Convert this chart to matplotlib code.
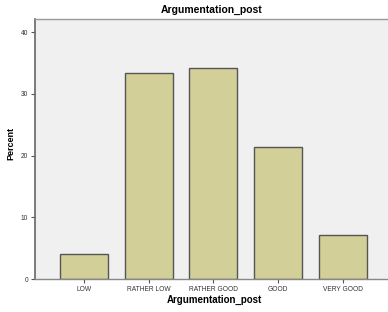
import matplotlib
matplotlib.use("Agg")
import matplotlib.pyplot as plt

plt.rcParams["font.family"] = ["Liberation Sans", "DejaVu Sans"]

categories = ["LOW", "RATHER LOW", "RATHER GOOD", "GOOD", "VERY GOOD"]
percent = [4.0, 33.3, 34.2, 21.4, 7.1]
yticks = [0, 10, 20, 30, 40]

fig = plt.figure(figsize=(3.88, 3.12), dpi=100)
fig.patch.set_facecolor("white")
ax = fig.add_axes([35/388, 33/312, 1 - 35/388, (279 - 18.5)/312])
ax.set_facecolor("#f0f0f0")

x = list(range(len(categories)))
ax.bar(x, percent, width=0.74, color="#d3cf99", edgecolor="#555555", linewidth=1.0, zorder=2)

ax.set_xlim(-0.757, 4.70)
ax.set_ylim(0, 42.2)
ax.set_xticks(x)
ax.set_xticklabels(categories, fontsize=4.8, color="#333333")
ax.set_yticks(yticks)
ax.set_yticklabels([str(v) for v in yticks], fontsize=4.8, color="#333333")
ax.tick_params(axis="both", direction="out", length=3, width=0.8, color="#555555", pad=2)

ax.spines["top"].set_color("#999999")
ax.spines["top"].set_linewidth(1.0)
ax.spines["right"].set_visible(False)
ax.spines["left"].set_color("#666666")
ax.spines["left"].set_linewidth(1.2)
ax.spines["bottom"].set_color("#888888")
ax.spines["bottom"].set_linewidth(1.0)

ax.set_title("Argumentation_post", fontsize=7.5, fontweight="bold", pad=4)
ax.set_xlabel("Argumentation_post", fontsize=7, fontweight="bold")
ax.xaxis.set_label_coords((214 - 35) / 353, -(295 - 279) / 260.5)
ax.set_ylabel("Percent", fontsize=6.5, fontweight="bold")
ax.yaxis.set_label_coords(-(35 - 15) / 353, (279 - 143) / 260.5)

fig.savefig("out.png", dpi=100)
